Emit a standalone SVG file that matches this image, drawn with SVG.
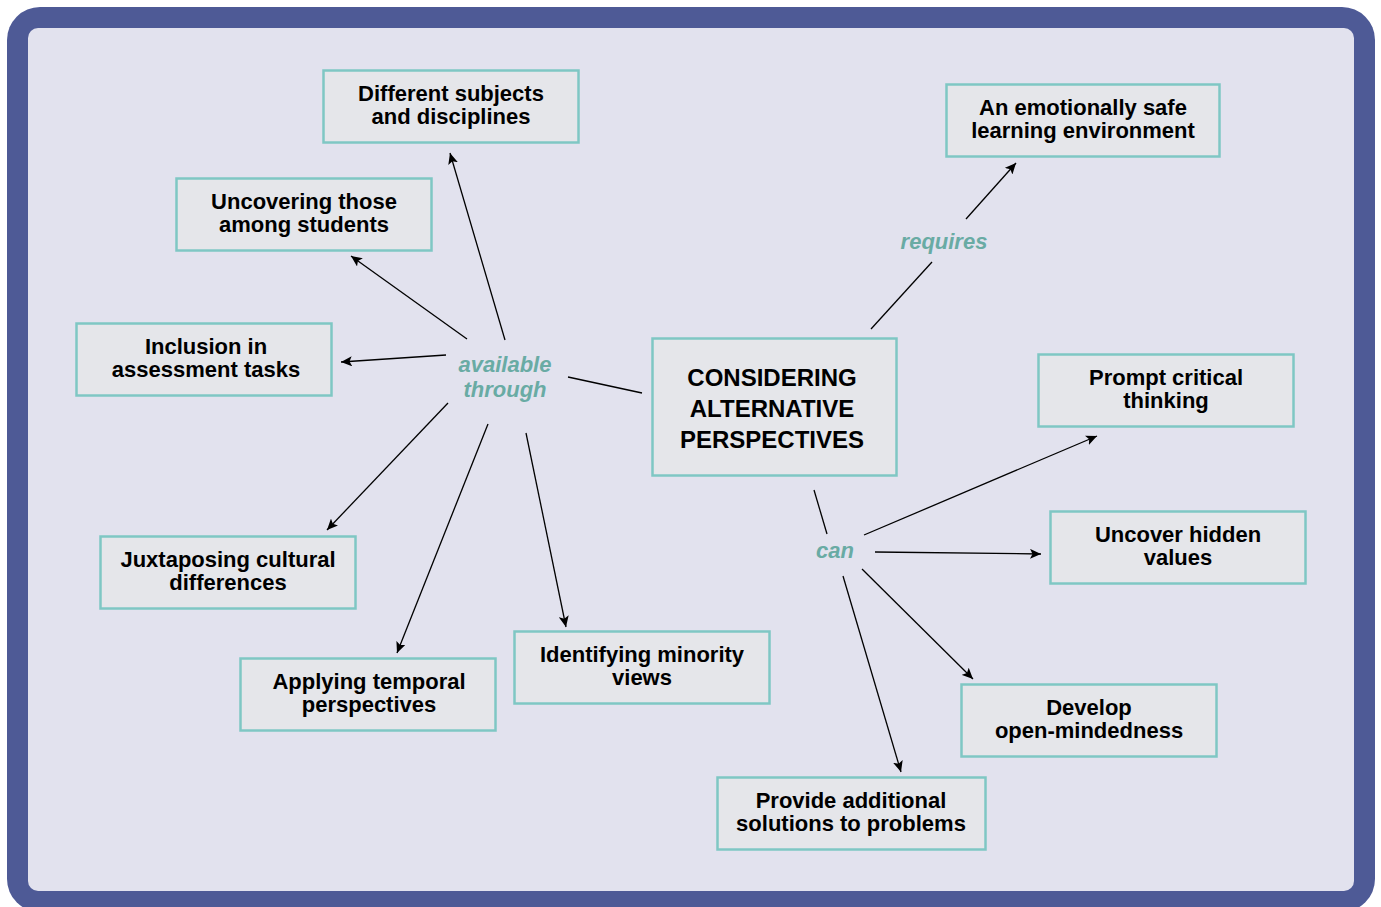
<svg xmlns="http://www.w3.org/2000/svg" width="1381" height="907" viewBox="0 0 1381 907">
<defs>
<style>
.node rect{fill:#E5E6EA;stroke:#7FC7C4;stroke-width:2.5}
.node text{font-family:"Liberation Sans",Arial,sans-serif;font-weight:bold;font-size:22px;fill:#000;text-anchor:middle}
#center text{font-size:24px}
.lbl{font-family:"Liberation Sans",Arial,sans-serif;font-weight:bold;font-style:italic;font-size:22px;fill:#69ABA4;text-anchor:middle}
.conn line{stroke:#000;stroke-width:1.3;fill:none}
.conn line.arr{marker-end:url(#ah)}
</style>
<marker id="ah" markerUnits="userSpaceOnUse" markerWidth="12" markerHeight="10" viewBox="0 0 12 10" refX="11" refY="5" orient="auto">
<path d="M0,0 L11,5 L0,10 L2.5,5 Z" fill="#000"/>
</marker>
</defs>
<rect x="7" y="7" width="1368" height="905" rx="33" fill="#4E5A96"/>
<rect x="28" y="28" width="1326" height="863" rx="10" fill="#E2E2EE"/>

<g class="conn">
<line x1="642" y1="393" x2="568" y2="377"/>
<line class="arr" x1="505" y1="340" x2="450" y2="153"/>
<line class="arr" x1="467" y1="339" x2="351" y2="256"/>
<line class="arr" x1="446" y1="355" x2="341" y2="362"/>
<line class="arr" x1="448" y1="403" x2="327" y2="530"/>
<line class="arr" x1="488" y1="424" x2="397" y2="653"/>
<line class="arr" x1="526" y1="433" x2="566" y2="627"/>
<line x1="871" y1="329" x2="932" y2="262"/>
<line class="arr" x1="966" y1="219" x2="1016" y2="163"/>
<line x1="814" y1="490" x2="827" y2="534"/>
<line class="arr" x1="864" y1="535" x2="1097" y2="436"/>
<line class="arr" x1="875" y1="552" x2="1041" y2="554"/>
<line class="arr" x1="862" y1="569" x2="973" y2="679"/>
<line class="arr" x1="843" y1="576" x2="901" y2="772"/>
</g>

<text class="lbl" x="505" y="372">available</text>
<text class="lbl" x="505" y="397">through</text>
<text class="lbl" x="944" y="249">requires</text>
<text class="lbl" x="835" y="558">can</text>

<g class="node" id="n-subjects"><rect x="323.5" y="70.5" width="255" height="72"/><text x="451" y="101">Different subjects</text><text x="451" y="124">and disciplines</text></g>
<g class="node" id="n-uncovering"><rect x="176.5" y="178.5" width="255" height="72"/><text x="304" y="209">Uncovering those</text><text x="304" y="232">among students</text></g>
<g class="node" id="n-inclusion"><rect x="76.5" y="323.5" width="255" height="72"/><text x="206" y="354">Inclusion in</text><text x="206" y="377">assessment tasks</text></g>
<g class="node" id="n-juxtaposing"><rect x="100.5" y="536.5" width="255" height="72"/><text x="228" y="567">Juxtaposing cultural</text><text x="228" y="590">differences</text></g>
<g class="node" id="n-temporal"><rect x="240.5" y="658.5" width="255" height="72"/><text x="369" y="689">Applying temporal</text><text x="369" y="712">perspectives</text></g>
<g class="node" id="n-minority"><rect x="514.5" y="631.5" width="255" height="72"/><text x="642" y="662">Identifying minority</text><text x="642" y="685">views</text></g>
<g class="node" id="center"><rect x="652.5" y="338.5" width="244" height="137"/><text x="772" y="386">CONSIDERING</text><text x="772" y="417">ALTERNATIVE</text><text x="772" y="448">PERSPECTIVES</text></g>
<g class="node" id="n-safe"><rect x="946.5" y="84.5" width="273" height="72"/><text x="1083" y="115">An emotionally safe</text><text x="1083" y="138">learning environment</text></g>
<g class="node" id="n-critical"><rect x="1038.5" y="354.5" width="255" height="72"/><text x="1166" y="385">Prompt critical</text><text x="1166" y="408">thinking</text></g>
<g class="node" id="n-hidden"><rect x="1050.5" y="511.5" width="255" height="72"/><text x="1178" y="542">Uncover hidden</text><text x="1178" y="565">values</text></g>
<g class="node" id="n-open"><rect x="961.5" y="684.5" width="255" height="72"/><text x="1089" y="715">Develop</text><text x="1089" y="738">open-mindedness</text></g>
<g class="node" id="n-solutions"><rect x="717.5" y="777.5" width="268" height="72"/><text x="851" y="808">Provide additional</text><text x="851" y="831">solutions to problems</text></g>
</svg>
